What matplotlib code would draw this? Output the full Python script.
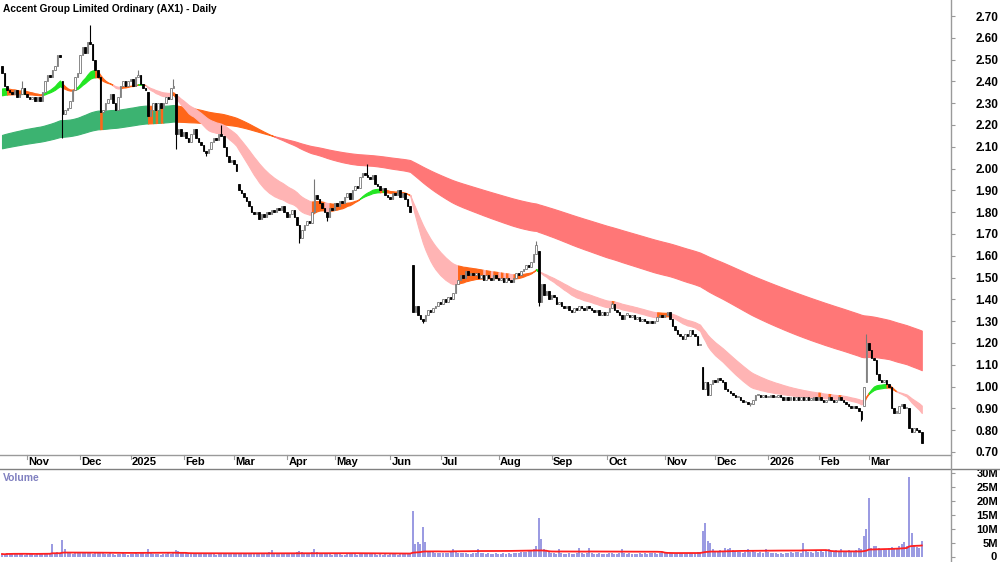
import numpy as np
import pandas as pd
import matplotlib
matplotlib.use("Agg")
import matplotlib.pyplot as plt
from matplotlib.lines import Line2D

plt.rcParams['font.family'] = ['Liberation Sans', 'DejaVu Sans']

TITLE = "Accent Group Limited Ordinary (AX1) - Daily"
START = "2024-10-17"
HOLIDAYS = ["2024-12-25", "2024-12-26", "2025-01-01", "2025-01-27", "2025-04-18",
            "2025-04-21", "2025-04-25", "2025-06-09", "2025-12-25", "2025-12-26",
            "2026-01-01", "2026-01-26"]

# daily closes (cents)
close_c = [
    244, 238, 236, 235, 234, 236, 233, 234, 237, 234,
    233, 232, 233, 231, 233, 231, 235, 240, 243, 242,
    245, 247, 252, 251, 225, 227, 228, 231, 236, 242,
    244, 252, 256, 253, 258, 257, 250, 245, 242, 226,
    227, 230, 232, 234, 230, 227, 233, 238, 240, 238,
    240, 241, 238, 242, 243, 239, 237, 236, 224, 227,
    230, 227, 230, 228, 230, 233, 232, 237, 238, 216,
    218, 215, 217, 214, 212, 216, 218, 214, 212, 211,
    208, 207, 209, 212, 214, 213, 216, 215, 210, 206,
    203, 204, 202, 199, 190, 189, 187, 185, 183, 180,
    179, 180, 177, 179, 178, 180, 179, 181, 180, 182,
    181, 183, 180, 178, 179, 181, 178, 174, 168, 172,
    174, 176, 175, 180, 188, 186, 184, 182, 180, 178,
    182, 181, 184, 183, 185, 184, 187, 189, 186, 190,
    192, 191, 196, 198, 197, 196, 195, 197, 193, 192,
    190, 191, 188, 187, 186, 189, 188, 190, 187, 189,
    186, 183, 180, 134, 137, 133, 131, 130, 133, 135,
    134, 136, 137, 139, 138, 140, 139, 141, 140, 143,
    147, 149, 151, 150, 153, 151, 152, 151, 152, 150,
    151, 149, 151, 150, 149, 151, 150, 149, 150, 148,
    150, 149, 148, 150, 152, 151, 153, 154, 156, 155,
    157, 161, 165, 139, 147, 142, 144, 140, 142, 141,
    138, 139, 137, 136, 137, 135, 134, 136, 135, 137,
    136, 135, 137, 136, 135, 134, 135, 133, 134, 133,
    134, 136, 138, 135, 134, 133, 131, 133, 133, 132,
    133, 131, 132, 130, 131, 130, 129, 130, 129, 130,
    132, 133, 132, 133, 134, 131, 128, 126, 124, 123,
    122, 124, 123, 126, 124, 123, 119, 119, 99, 102,
    96, 101, 103, 102, 104, 103, 102, 99, 98, 97,
    96, 95, 95, 94, 93, 93, 92, 92, 94, 96,
    96, 95, 96, 95, 95, 96, 95, 95, 96, 95,
    94, 95, 94, 95, 94, 95, 94, 95, 94, 95,
    94, 94, 95, 94, 95, 94, 93, 94, 95, 94,
    93, 94, 95, 94, 93, 92, 91, 90, 91, 90,
    89, 85, 100, 120, 117, 113, 112, 106, 103, 102,
    103, 101, 100, 90, 88, 88, 91, 92, 90, 90,
    81, 79, 81, 80, 79, 74,
]
# opens that differ from the previous close (gaps), in $
gap_open = {0: 2.47, 24: 2.40, 39: 2.42, 58: 2.35, 69: 2.34, 94: 1.93, 163: 1.56,
            213: 1.62, 278: 1.09, 342: 0.91, 343: 1.02, 353: 1.00, 360: 0.90}
high_wick = {8: 2.40, 35: 2.66, 54: 2.45, 68: 2.41, 87: 2.20, 124: 1.95, 145: 2.02,
             212: 1.67, 242: 1.39, 343: 1.24}
low_wick = {24: 2.14, 69: 2.09, 81: 2.06, 118: 1.66, 129: 1.76, 167: 1.29, 213: 1.37,
            297: 0.91, 341: 0.84}

# daily volume (millions)
volume_m = [
    1.2, 1.0, 1.4, 1.3, 1.5, 1.1, 1.3, 1.2, 1.6, 1.0,
    1.1, 1.3, 1.2, 0.9, 1.4, 1.2, 1.5, 1.3, 1.7, 1.4,
    4.8, 1.6, 1.8, 1.5, 6.2, 3.0, 1.7, 1.4, 1.3, 1.5,
    1.9, 1.6, 1.4, 1.8, 1.5, 1.7, 1.2, 1.4, 1.6, 2.0,
    1.5, 1.3, 1.2, 1.4, 1.1, 1.0, 1.3, 1.2, 1.4, 1.1,
    1.0, 1.2, 1.3, 1.5, 1.2, 1.7, 1.4, 1.2, 3.0, 1.6,
    1.3, 1.2, 1.1, 1.0, 1.3, 1.2, 1.4, 1.2, 2.0, 2.5,
    2.3, 1.6, 1.4, 1.5, 1.3, 1.6, 1.4, 1.2, 1.5, 1.3,
    1.4, 1.2, 1.1, 1.3, 1.2, 1.0, 1.4, 1.5, 1.3, 1.2,
    1.3, 1.5, 1.4, 1.6, 1.7, 1.4, 1.3, 1.2, 1.5, 1.4,
    1.2, 1.4, 1.3, 1.5, 1.6, 1.4, 1.8, 2.5, 1.5, 1.3,
    1.2, 1.4, 1.3, 1.5, 1.7, 1.4, 1.6, 1.9, 2.3, 1.8,
    1.5, 1.4, 1.6, 1.8, 3.0, 2.0, 1.6, 1.4, 1.3, 1.2,
    1.1, 1.0, 1.2, 1.3, 1.1, 0.9, 1.0, 1.2, 1.1, 1.3,
    1.2, 1.0, 1.1, 1.3, 1.2, 1.4, 1.1, 1.3, 1.2, 1.0,
    1.1, 0.9, 1.2, 1.0, 1.1, 1.3, 1.2, 1.0, 1.2, 1.4,
    1.3, 1.5, 1.6, 16.5, 4.8, 5.6, 4.8, 10.7, 5.4, 2.3,
    2.0, 1.8, 1.6, 1.5, 1.7, 1.4, 1.6, 1.5, 1.8, 3.0,
    2.0, 1.7, 1.5, 1.4, 1.6, 1.3, 1.2, 1.4, 1.5, 3.0,
    1.6, 1.4, 1.2, 1.5, 1.3, 1.1, 1.4, 1.2, 1.3, 1.5,
    1.3, 1.4, 1.2, 1.6, 1.5, 1.7, 1.8, 2.0, 1.9, 2.4,
    2.2, 2.8, 4.0, 13.9, 6.5, 3.0, 2.2, 1.8, 1.6, 1.4,
    1.3, 3.0, 1.5, 1.3, 1.2, 1.4, 1.3, 1.2, 1.5, 3.5,
    1.6, 1.3, 1.4, 3.3, 1.5, 1.2, 1.3, 1.4, 1.2, 1.1,
    1.3, 1.5, 1.4, 1.3, 1.2, 1.6, 3.0, 1.5, 1.3, 1.4,
    1.2, 1.1, 1.3, 1.5, 1.2, 1.4, 1.3, 1.6, 1.4, 1.5,
    1.3, 1.5, 1.8, 1.6, 1.4, 1.7, 1.5, 1.3, 1.6, 1.4,
    1.5, 1.3, 1.6, 1.4, 1.7, 1.5, 1.8, 2.0, 9.5, 12.4,
    6.0, 5.0, 3.0, 2.4, 2.0, 2.6, 2.2, 3.2, 2.8, 3.5,
    2.5, 2.2, 1.8, 2.0, 1.7, 1.9, 3.0, 1.8, 2.2, 2.0,
    1.6, 1.9, 1.7, 2.8, 1.8, 1.6, 1.4, 1.5, 1.3, 1.4,
    1.2, 1.5, 1.6, 1.8, 1.7, 2.0, 1.9, 1.7, 5.0, 2.2,
    2.0, 1.8, 1.6, 2.4, 2.0, 2.2, 1.9, 2.5, 3.0, 2.3,
    2.1, 2.6, 2.4, 3.0, 2.0, 2.3, 2.5, 2.0, 2.2, 2.6,
    3.2, 2.8, 7.6, 10.0, 21.3, 3.5, 4.0, 4.2, 3.2, 2.8,
    3.0, 2.6, 3.3, 3.8, 3.4, 3.0, 4.2, 4.8, 5.5, 4.0,
    28.8, 8.8, 4.5, 3.8, 3.2, 6.0,
]

# ribbon starting levels read at the left edge, and EMA spans
SHORT_SEED = (2.36, 2.33)
LONG_SEED = (2.15, 2.09)
SHORT_SPANS = (20, 35)
LONG_SPANS = (130, 230)
VOL_MA = 50

GREEN_S, GREEN_L = "#22e622", "#3cb371"
ORANGE = "#ff6619"
PINK_S, RED_L = "#ffb4b4", "#ff7777"


def ema(vals, span, seed):
    a = 2.0 / (span + 1)
    out = np.empty(len(vals))
    prev = seed
    for i, v in enumerate(vals):
        prev = prev + a * (v - prev)
        out[i] = prev
    return out


def short_colors(fast, slow):
    rising = np.diff(fast, prepend=fast[0]) >= 0
    return np.where((fast > slow) & rising, GREEN_S,
                    np.where((fast < slow) & ~rising, PINK_S, ORANGE))


def long_colors(fast, slow):
    rising = np.diff(fast, prepend=fast[0]) >= 0
    return np.where(fast < slow, RED_L, np.where(rising, GREEN_L, ORANGE))


def draw_ribbon(ax, x, fast, slow, cols):
    lo, hi = np.minimum(fast, slow), np.maximum(fast, slow)
    start = 0
    for i in range(1, len(x) + 1):
        if i == len(x) or cols[i] != cols[start]:
            end = min(i + 1, len(x))
            ax.fill_between(x[start:end], lo[start:end], hi[start:end],
                            color=cols[start], lw=0.8, zorder=1)
            start = i


close = np.array(close_c) / 100.0
vol = np.array(volume_m)
n = len(close)
dates = pd.bdate_range(START, periods=n, freq="C", holidays=HOLIDAYS)
x = np.arange(n)

opens = np.r_[close[0], close[:-1]]
for k, v in gap_open.items():
    opens[k] = v
highs = np.maximum(opens, close)
lows = np.minimum(opens, close)
for k, v in high_wick.items():
    highs[k] = v
for k, v in low_wick.items():
    lows[k] = v

fig = plt.figure(figsize=(10, 5.62), dpi=100)
ax = fig.add_axes([0, 107 / 562, 0.951, 455 / 562])
axv = fig.add_axes([0, 0, 0.951, 93 / 562])

# ribbons
fl, sl = ema(close, LONG_SPANS[0], LONG_SEED[0]), ema(close, LONG_SPANS[1], LONG_SEED[1])
draw_ribbon(ax, x, fl, sl, long_colors(fl, sl))
fs, ss = ema(close, SHORT_SPANS[0], SHORT_SEED[0]), ema(close, SHORT_SPANS[1], SHORT_SEED[1])
draw_ribbon(ax, x, fs, ss, short_colors(fs, ss))

# candles
up = close >= opens
body = np.maximum(np.abs(close - opens), 0.006)
bottom = np.minimum(opens, close)
ax.vlines(x[up], lows[up], highs[up], color="#777777", lw=0.8, zorder=2)
ax.vlines(x[~up], lows[~up], highs[~up], color="black", lw=0.8, zorder=2)
ax.bar(x[up], body[up], bottom=bottom[up], width=0.6, color="white",
       edgecolor="#777777", lw=0.6, zorder=3)
ax.bar(x[~up], body[~up], bottom=bottom[~up], width=0.6, color="black",
       edgecolor="black", lw=0.6, zorder=3)

xlim = (-0.8, 376.6)
ax.set_xlim(*xlim)
ax.set_ylim(0.6862, 2.7734)
yt = np.round(np.arange(0.7, 2.71, 0.1), 2)
ax.set_yticks(yt)
ax.set_yticklabels([f"{v:.2f}" for v in yt])
ax.yaxis.tick_right()
ax.tick_params(axis="y", direction="out", length=3, color="#999999", pad=31,
               labelsize=8.5)
for lab in ax.get_yticklabels():
    lab.set_ha("right")
    lab.set_fontweight("bold")
ax.set_xticks([])
for s in ["top", "left", "right", "bottom"]:
    ax.spines[s].set_visible(False)

# month labels
month_start = [i for i in range(1, n) if dates[i].month != dates[i - 1].month]
for i in month_start:
    d = dates[i]
    lab = str(d.year) if d.month == 1 else d.strftime("%b")
    ax.plot([i - 0.9, i - 0.9], [0, -0.008], transform=ax.get_xaxis_transform(),
            color="#999999", lw=0.8, clip_on=False)
    ax.text(i - 0.4, -0.0155, lab, transform=ax.get_xaxis_transform(), ha="left",
            va="center", fontsize=8, fontweight="bold")

ax.text(0.003, 0.98, TITLE, transform=ax.transAxes, ha="left", va="center",
        fontsize=7.3, fontweight="bold")

# volume
axv.vlines(x, 0, vol, color="#8888dd", lw=1.2, zorder=2)
vol_ma = pd.Series(vol).rolling(VOL_MA, min_periods=1).mean().values
axv.plot(x, vol_ma, color="#ff2020", lw=1.3, zorder=3)
axv.set_xlim(*xlim)
axv.set_ylim(-1.66, 31.5)
vt = [0, 5, 10, 15, 20, 25, 30]
axv.set_yticks(vt)
axv.set_yticklabels([""] + [f"{v}M" for v in vt[1:]])
axv.yaxis.tick_right()
axv.tick_params(axis="y", direction="out", length=3, color="#999999", pad=31,
                labelsize=8)
for lab in axv.get_yticklabels():
    lab.set_ha("right")
    lab.set_fontweight("bold")
# zero label kept inside the canvas
fig.text(0.9965, 0.5 / 562, "0", ha="right", va="bottom", fontsize=8,
         fontweight="bold")
axv.set_xticks([])
for s in ["top", "left", "right", "bottom"]:
    axv.spines[s].set_visible(False)
axv.text(0.003, 0.9, "Volume", transform=axv.transAxes, ha="left", va="center",
         fontsize=7.5, fontweight="bold", color="#8080c0")

# frame lines
fig.add_artist(Line2D([0, 0.951], [107 / 562, 107 / 562], color="#9a9a9a", lw=1.0))
fig.add_artist(Line2D([0, 1], [93 / 562, 93 / 562], color="#808080", lw=1.0))
fig.add_artist(Line2D([0.951, 0.951], [0, 1], color="#9a9a9a", lw=1.0))

fig.savefig("out.png", dpi=100)
